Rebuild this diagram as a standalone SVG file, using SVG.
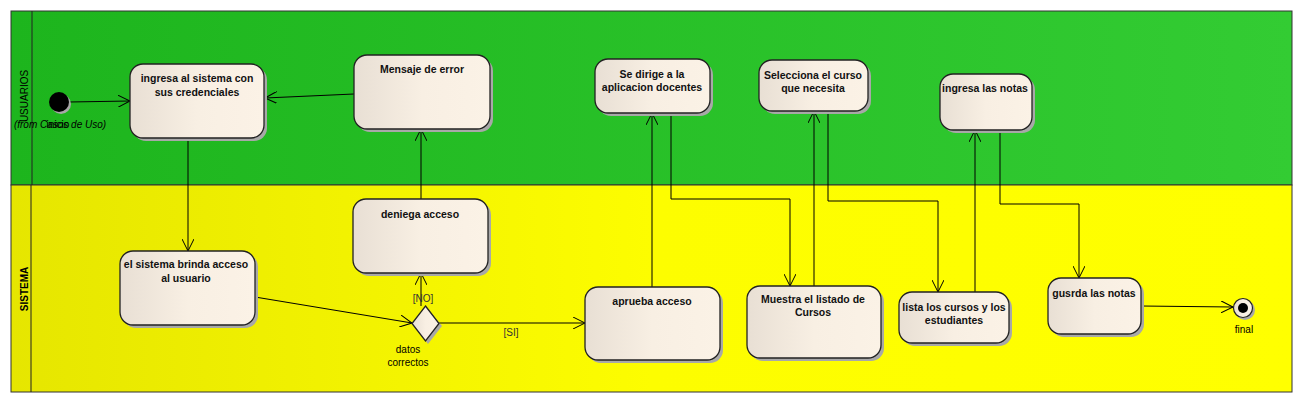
<svg xmlns="http://www.w3.org/2000/svg" width="1303" height="402" viewBox="0 0 1303 402">
<defs>
<linearGradient id="gGreen" x1="0" y1="0" x2="1" y2="0"><stop offset="0" stop-color="#1db51d"/><stop offset="1" stop-color="#33cc33"/></linearGradient>
<linearGradient id="gYellow" x1="0" y1="0" x2="1" y2="0"><stop offset="0" stop-color="#e6e600"/><stop offset="0.5" stop-color="#fdfd00"/><stop offset="1" stop-color="#ffff00"/></linearGradient>
<linearGradient id="gNode" x1="0" y1="0" x2="1" y2="0"><stop offset="0" stop-color="#e8dfd4"/><stop offset="0.5" stop-color="#f8efe3"/><stop offset="1" stop-color="#fbf2e6"/></linearGradient>
<marker id="arr" markerUnits="userSpaceOnUse" markerWidth="14" markerHeight="12" refX="12" refY="6" orient="auto"><path d="M0,0 L12,6 L0,12" fill="none" stroke="#000" stroke-width="1"/></marker>
</defs>
<style>
.act{fill:url(#gNode);stroke:#222;stroke-width:1.3}
.sh{fill:#a8a8a8}
.t{font-family:"Liberation Sans",Arial,sans-serif;font-size:10.5px;font-weight:bold;text-anchor:middle;fill:#111}
.l{font-family:"Liberation Sans",Arial,sans-serif;font-size:10px;fill:#000;text-anchor:middle}
.c{fill:none;stroke:#000;stroke-width:1;marker-end:url(#arr)}
</style>
<rect width="1303" height="402" fill="#fff"/>
<g id="lanes">
<rect x="11" y="11" width="1281" height="174" fill="url(#gGreen)" stroke="#333" stroke-width="1"/>
<rect x="11" y="185" width="1281" height="207" fill="url(#gYellow)" stroke="#333" stroke-width="1"/>
<line x1="32" y1="11" x2="32" y2="185" stroke="#222" stroke-width="1"/>
<line x1="31" y1="185" x2="31" y2="392" stroke="#222" stroke-width="1"/>
<text class="l" transform="translate(28,96) rotate(-90)">USUARIOS</text>
<text class="l" transform="translate(28,289) rotate(-90)" style="font-weight:bold">SISTEMA</text>
</g>
<g id="connectors">
<line class="c" x1="69" y1="102" x2="130" y2="101"/>
<line class="c" x1="354" y1="94" x2="265" y2="98"/>
<line class="c" x1="188" y1="139" x2="188" y2="251"/>
<line class="c" x1="255" y1="297" x2="412" y2="323"/>
<line class="c" x1="421" y1="306" x2="421" y2="273"/>
<line class="c" x1="421" y1="199" x2="421" y2="129"/>
<line class="c" x1="439" y1="323" x2="585" y2="323"/>
<line class="c" x1="652" y1="287" x2="652" y2="113"/>
<polyline class="c" points="671,113 671,199 790,199 790,286"/>
<line class="c" x1="814" y1="286" x2="814" y2="111"/>
<polyline class="c" points="828,111 828,201 938,201 938,292"/>
<line class="c" x1="975" y1="292" x2="975" y2="130"/>
<polyline class="c" points="1000,130 1000,204 1079,204 1079,278"/>
<line class="c" x1="1141" y1="306" x2="1233" y2="307"/>
<text class="l" x="423" y="302" style="fill:#333">[NO]</text>
<text class="l" x="511" y="336" style="fill:#333">[SI]</text>
</g>
<g id="inicio">
<circle cx="61" cy="104" r="10" fill="#a8a8a8"/>
<circle cx="59" cy="102" r="10" fill="#000"/>
<text class="l" x="58" y="128">inicio</text>
<text class="l" x="60" y="128" style="font-style:italic">(from Casos de Uso)</text>
</g>
<g id="n_ingresa">
<rect class="sh" x="133" y="67" width="134" height="74" rx="13"/>
<rect class="act" x="130" y="64" width="134" height="74" rx="13"/>
<text class="t" x="197" y="82">ingresa al sistema con</text>
<text class="t" x="197" y="96">sus credenciales</text>
</g>
<g id="n_mensaje">
<rect class="sh" x="357" y="58" width="136" height="74" rx="13"/>
<rect class="act" x="354" y="55" width="136" height="74" rx="13"/>
<text class="t" x="422" y="73">Mensaje de error</text>
</g>
<g id="n_dirige">
<rect class="sh" x="598" y="62" width="115" height="54" rx="13"/>
<rect class="act" x="595" y="59" width="115" height="54" rx="13"/>
<text class="t" x="652" y="78">Se dirige a la</text>
<text class="t" x="652" y="91">aplicacion docentes</text>
</g>
<g id="n_selecciona">
<rect class="sh" x="762" y="63" width="109" height="51" rx="13"/>
<rect class="act" x="759" y="60" width="109" height="51" rx="13"/>
<text class="t" x="813" y="79">Selecciona el curso</text>
<text class="t" x="813" y="92">que necesita</text>
</g>
<g id="n_ingresanotas">
<rect class="sh" x="943" y="77" width="92" height="56" rx="13"/>
<rect class="act" x="940" y="74" width="92" height="56" rx="13"/>
<text class="t" x="985" y="92">ingresa las notas</text>
</g>
<g id="n_brinda">
<rect class="sh" x="123" y="254" width="135" height="74" rx="13"/>
<rect class="act" x="120" y="251" width="135" height="74" rx="13"/>
<text class="t" x="186" y="268">el sistema brinda acceso</text>
<text class="t" x="186" y="282">al usuario</text>
</g>
<g id="n_deniega">
<rect class="sh" x="356" y="202" width="135" height="74" rx="13"/>
<rect class="act" x="353" y="199" width="135" height="74" rx="13"/>
<text class="t" x="420" y="218">deniega acceso</text>
</g>
<g id="n_decision">
<polygon points="428,309 442,326 428,344 415,326" fill="#a8a8a8"/>
<polygon class="act" points="425.5,306 439,323.5 425.5,341 412,323.5"/>
<text class="l" x="408" y="353">datos</text>
<text class="l" x="408" y="366">correctos</text>
</g>
<g id="n_aprueba">
<rect class="sh" x="588" y="290" width="135" height="73" rx="13"/>
<rect class="act" x="585" y="287" width="135" height="73" rx="13"/>
<text class="t" x="652" y="305">aprueba acceso</text>
</g>
<g id="n_muestra">
<rect class="sh" x="750" y="289" width="134" height="72" rx="13"/>
<rect class="act" x="747" y="286" width="134" height="72" rx="13"/>
<text class="t" x="813" y="303">Muestra el listado de</text>
<text class="t" x="813" y="316">Cursos</text>
</g>
<g id="n_lista">
<rect class="sh" x="902" y="295" width="110" height="51" rx="13"/>
<rect class="act" x="899" y="292" width="110" height="51" rx="13"/>
<text class="t" x="954" y="311">lista los cursos y los</text>
<text class="t" x="954" y="324">estudiantes</text>
</g>
<g id="n_gusrda">
<rect class="sh" x="1051" y="281" width="93" height="56" rx="13"/>
<rect class="act" x="1048" y="278" width="93" height="56" rx="13"/>
<text class="t" x="1094" y="297">gusrda las notas</text>
</g>
<g id="final">
<circle cx="1245" cy="310" r="10" fill="#a8a8a8"/>
<circle cx="1243" cy="308" r="9.5" fill="url(#gNode)" stroke="#222" stroke-width="1.2"/>
<circle cx="1243" cy="308" r="5" fill="#000"/>
<text class="l" x="1244" y="333">final</text>
</g>
</svg>
